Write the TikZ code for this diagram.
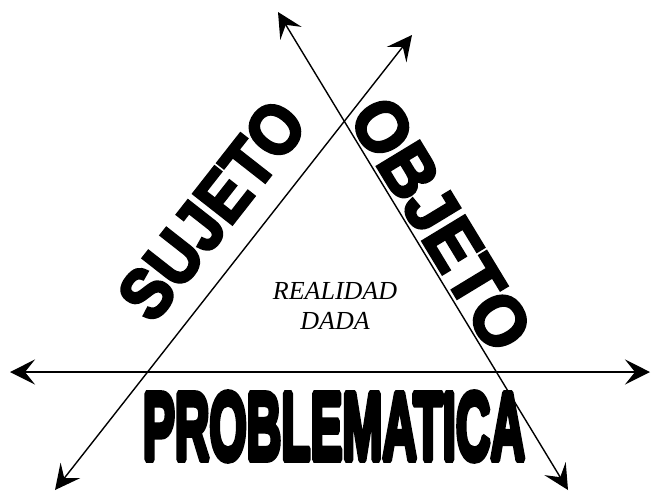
\documentclass[tikz,border=0pt]{standalone}
\usepackage{fontspec}
\setmainfont{Liberation Serif}
\newfontfamily\heavy[FakeBold=4]{Liberation Sans Bold}
\newfontfamily\heavyc[FakeBold=7]{Liberation Sans Bold}
\usetikzlibrary{arrows.meta}
\begin{document}
\begin{tikzpicture}[x=1pt,y=-1pt,
  axis/.style={line width=1.4pt,{Stealth[length=25pt,width=25pt,inset=10pt]}-{Stealth[length=25pt,width=25pt,inset=10pt]}},
  bigword/.style={inner sep=0pt,outer sep=0pt},
  realtxt/.style={inner sep=0pt,align=center,font=\fontsize{26}{30}\selectfont\itshape}]
\useasboundingbox (0,0) rectangle (652,491);
% line end points
\coordinate (hL) at (10,372);
\coordinate (hR) at (650,372);
\coordinate (lB) at (55,490);
\coordinate (lT) at (412,35);
\coordinate (rT) at (278,12);
\coordinate (rB) at (568,490);
\draw[axis] (hL) -- (hR);
\draw[axis] (lB) -- (lT);
\draw[axis] (rT) -- (rB);
% words
\node[bigword,rotate=51.9] (sujeto) at (212,210) {\resizebox{254pt}{50pt}{\heavy SUJETO}};
\node[bigword,rotate=-58.75] (objeto) at (441,224) {\resizebox{280pt}{50pt}{\heavy OBJETO}};
\node[bigword] (problematica) at (334,426.5) {\pgfsetmiterlimit{1}\resizebox{382pt}{67pt}{\heavyc PROBLEMATICA}};
\node[realtxt] (realidad) at (335,306) {REALIDAD\\DADA};
\end{tikzpicture}
\end{document}
